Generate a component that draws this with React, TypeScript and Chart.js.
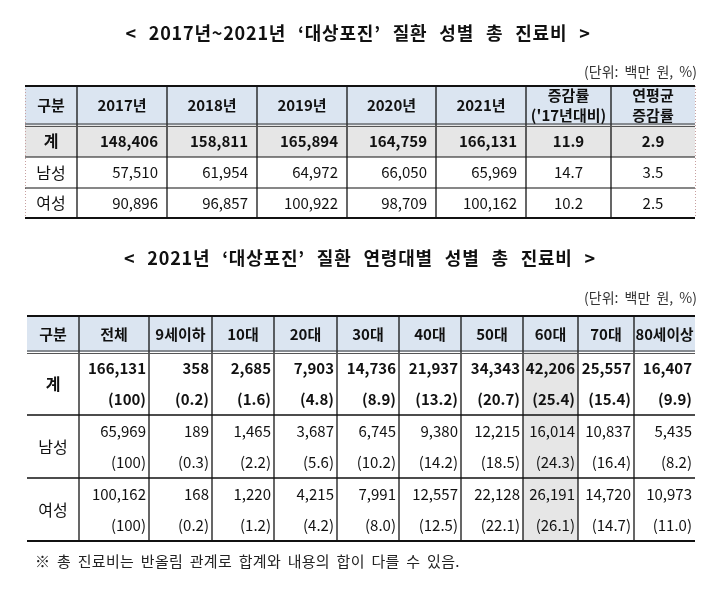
import React, { useEffect, useRef } from "react";
import { Chart, registerables } from "chart.js";

Chart.register(...registerables);

// ---------- data ----------
const yearLabels = ["2017년", "2018년", "2019년", "2020년", "2021년"];
const yearTotal = [148406, 158811, 165894, 164759, 166131];
const yearMale = [57510, 61954, 64972, 66050, 65969];
const yearFemale = [90896, 96857, 100922, 98709, 100162];
const changeVs2017 = [11.9, 14.7, 10.2]; // 계, 남성, 여성
const annualAvgChange = [2.9, 3.5, 2.5];

const ageLabels = ["전체", "9세이하", "10대", "20대", "30대", "40대", "50대", "60대", "70대", "80세이상"];
const ageTotal = [166131, 358, 2685, 7903, 14736, 21937, 34343, 42206, 25557, 16407];
const ageTotalPct = [100, 0.2, 1.6, 4.8, 8.9, 13.2, 20.7, 25.4, 15.4, 9.9];
const ageMale = [65969, 189, 1465, 3687, 6745, 9380, 12215, 16014, 10837, 5435];
const ageMalePct = [100, 0.3, 2.2, 5.6, 10.2, 14.2, 18.5, 24.3, 16.4, 8.2];
const ageFemale = [100162, 168, 1220, 4215, 7991, 12557, 22128, 26191, 14720, 10973];
const ageFemalePct = [100, 0.2, 1.2, 4.2, 8.0, 12.5, 22.1, 26.1, 14.7, 11.0];

const rowLabels = ["계", "남성", "여성"];
const title1 = "< 2017년~2021년 ‘대상포진’ 질환 성별 총 진료비 >";
const title2 = "< 2021년 ‘대상포진’ 질환 연령대별 성별 총 진료비 >";
const unitLabel = "(단위: 백만 원, %)";
const footnote = "※ 총 진료비는 반올림 관계로 합계와 내용의 합이 다를 수 있음.";
const highlightAge = "60대";

// ---------- layout (scale units = px of reference) ----------
const T1_COLS = [25, 77, 167, 257, 347, 436, 526, 611, 695];
const T1_ROWS = [86, 125, 157, 188, 218];
const T2_COLS = [27, 79, 149, 212, 274, 337, 399, 461, 523, 578, 634, 695];
const T2_ROWS = [316, 352, 415, 478, 541];

const FONT = '"Noto Sans CJK KR", "Noto Sans", sans-serif';
const HEADER_BG = "#dbe5f1";
const GRAY_BG = "#e6e6e6";

const fmtNum = (v: number) => v.toLocaleString("en-US");
const fmtPct = (v: number) => "(" + (v === 100 ? "100" : v.toFixed(1)) + ")";

const tablePlugin = {
  id: "tables",
  afterDraw(chart: any) {
    const ctx: CanvasRenderingContext2D = chart.ctx;
    const xs = chart.scales.x;
    const ys = chart.scales.y;
    const X = (v: number) => xs.getPixelForValue(v);
    const Y = (v: number) => ys.getPixelForValue(v);

    const text = (s: string, x: number, y: number, align: CanvasTextAlign, bold: boolean, size: number, color = "#111", maxW?: number, spacing = 0, wordSp = 0) => {
      ctx.save();
      ctx.font = `${bold ? "bold " : ""}${size}px ${FONT}`;
      ctx.fillStyle = color;
      ctx.textAlign = align;
      ctx.textBaseline = "middle";
      (ctx as any).letterSpacing = spacing + "px";
      (ctx as any).wordSpacing = wordSp + "px";
      if (maxW) ctx.fillText(s, X(x), Y(y), maxW);
      else ctx.fillText(s, X(x), Y(y));
      ctx.restore();
    };
    const hline = (x1: number, x2: number, y: number, w: number, color = "#000") => {
      ctx.save();
      ctx.strokeStyle = color;
      ctx.lineWidth = w;
      ctx.beginPath();
      ctx.moveTo(X(x1), Y(y));
      ctx.lineTo(X(x2), Y(y));
      ctx.stroke();
      ctx.restore();
    };
    const vline = (x: number, y1: number, y2: number, w: number, color = "#000", dash?: number[]) => {
      ctx.save();
      ctx.strokeStyle = color;
      ctx.lineWidth = w;
      if (dash) ctx.setLineDash(dash);
      ctx.beginPath();
      ctx.moveTo(X(x), Y(y1));
      ctx.lineTo(X(x), Y(y2));
      ctx.stroke();
      ctx.restore();
    };
    const rect = (x1: number, y1: number, x2: number, y2: number, color: string) => {
      ctx.save();
      ctx.fillStyle = color;
      ctx.fillRect(X(x1), Y(y1), X(x2) - X(x1), Y(y2) - Y(y1));
      ctx.restore();
    };

    // ---- titles ----
    text(title1, 358, 33, "center", true, 18, "#111", undefined, 0.8, 7);
    text(unitLabel, 697, 72, "right", false, 14, "#333", undefined, 0, 3);
    text(title2, 360, 258, "center", true, 18, "#111", undefined, 0.8, 7);
    text(unitLabel, 697, 298, "right", false, 14, "#333", undefined, 0, 3);

    // ---- table 1 ----
    const c1 = T1_COLS, r1 = T1_ROWS;
    rect(c1[0], r1[0], c1[c1.length - 1], r1[1], HEADER_BG);
    rect(c1[0], r1[1], c1[c1.length - 1], r1[2], GRAY_BG);
    for (let i = 1; i < c1.length - 1; i++) vline(c1[i], r1[0], r1[r1.length - 1], 1.2);
    vline(c1[0] + 0.5, r1[0], r1[r1.length - 1], 1, "#c8a0a0", [1, 2]);
    vline(c1[c1.length - 1] + 0.5, r1[0], r1[r1.length - 1], 1, "#c8a0a0", [1, 2]);
    hline(c1[0], c1[c1.length - 1], r1[0], 2.2, "#111");
    hline(c1[0], c1[c1.length - 1], r1[1] - 1, 1.2, "#333");
    hline(c1[0], c1[c1.length - 1], r1[1] + 1.5, 1.2, "#555");
    hline(c1[0], c1[c1.length - 1], r1[2], 1.2, "#111");
    hline(c1[0], c1[c1.length - 1], r1[3], 1.2, "#111");
    hline(c1[0], c1[c1.length - 1], r1[4], 2.2, "#111");

    const hc1 = (r1[0] + r1[1]) / 2;
    const mid = (i: number) => (c1[i] + c1[i + 1]) / 2;
    text("구분", mid(0), hc1, "center", true, 15);
    yearLabels.forEach((l, i) => text(l, mid(i + 1), hc1, "center", true, 15));
    text("증감률", mid(6), hc1 - 10, "center", true, 15);
    text("('17년대비)", mid(6), hc1 + 10, "center", true, 15, "#111", c1[7] - c1[6] - 4);
    text("연평균", mid(7), hc1 - 10, "center", true, 15);
    text("증감률", mid(7), hc1 + 10, "center", true, 15);

    const t1Rows = [yearTotal, yearMale, yearFemale];
    t1Rows.forEach((vals, ri) => {
      const yc = (r1[ri + 1] + r1[ri + 2]) / 2;
      const bold = ri === 0;
      text(rowLabels[ri], mid(0), yc, "center", bold, 16);
      vals.forEach((v, i) => text(fmtNum(v), c1[i + 2] - 9, yc, "right", bold, 15));
      text(changeVs2017[ri].toFixed(1), mid(6), yc, "center", bold, 15);
      text(annualAvgChange[ri].toFixed(1), mid(7), yc, "center", bold, 15);
    });

    // ---- table 2 ----
    const c2 = T2_COLS, r2 = T2_ROWS;
    const last = c2.length - 1;
    const hi = ageLabels.indexOf(highlightAge) + 1;
    rect(c2[0], r2[0], c2[last], r2[1], HEADER_BG);
    rect(c2[hi], r2[1], c2[hi + 1], r2[4], GRAY_BG);
    for (let i = 1; i < last; i++) vline(c2[i], r2[0], r2[r2.length - 1], 1.2);
    hline(c2[0], c2[last], r2[0], 2.2, "#111");
    hline(c2[0], c2[last], r2[1] - 1, 1.2, "#333");
    hline(c2[0], c2[last], r2[1] + 1.5, 1.2, "#555");
    hline(c2[0], c2[last], r2[2], 1.4, "#111");
    hline(c2[0], c2[last], r2[3], 1.4, "#111");
    hline(c2[0], c2[last], r2[4], 2.2, "#111");

    const mid2 = (i: number) => (c2[i] + c2[i + 1]) / 2;
    const hc2 = (r2[0] + r2[1]) / 2;
    text("구분", mid2(0), hc2, "center", true, 15);
    ageLabels.forEach((l, i) => text(l, mid2(i + 1), hc2, "center", true, 15, "#111", c2[i + 2] - c2[i + 1] - 3));

    const t2 = [
      [ageTotal, ageTotalPct],
      [ageMale, ageMalePct],
      [ageFemale, ageFemalePct],
    ];
    t2.forEach(([vals, pcts], ri) => {
      const top = r2[ri + 1];
      const bot = r2[ri + 2];
      const yc = (top + bot) / 2;
      const bold = ri === 0;
      text(rowLabels[ri], mid2(0), yc, "center", bold, 16);
      vals.forEach((v, i) => {
        const w = c2[i + 2] - c2[i + 1] - 5;
        text(fmtNum(v), c2[i + 2] - 3, yc - 15.5, "right", bold, 15, "#111", w);
        text(fmtPct(pcts[i]), c2[i + 2] - 3, yc + 16, "right", bold, 15, "#111", w);
      });
    });

    // footnote
    text(footnote, 35, 561, "left", false, 15, "#222", undefined, 0.3, 3);
  },
};

export default function App() {
  const ref = useRef<HTMLCanvasElement | null>(null);
  useEffect(() => {
    if (!ref.current) return;
    const chart = new Chart(ref.current, {
      type: "scatter",
      data: { datasets: [{ data: [] }] },
      options: {
        animation: false,
        responsive: false,
        maintainAspectRatio: false,
        layout: { padding: 0 },
        plugins: { legend: { display: false }, tooltip: { enabled: false } },
        scales: {
          x: { type: "linear", min: 0, max: 720, display: false },
          y: { type: "linear", min: 0, max: 593, reverse: true, display: false },
        },
      },
      plugins: [tablePlugin],
    });
    return () => chart.destroy();
  }, []);
  return (
    <div style={{ position: "absolute", left: 0, top: 0, width: 720, height: 593, background: "#fff" }}>
      <canvas ref={ref} width={720} height={593} style={{ width: 720, height: 593 }} />
    </div>
  );
}
